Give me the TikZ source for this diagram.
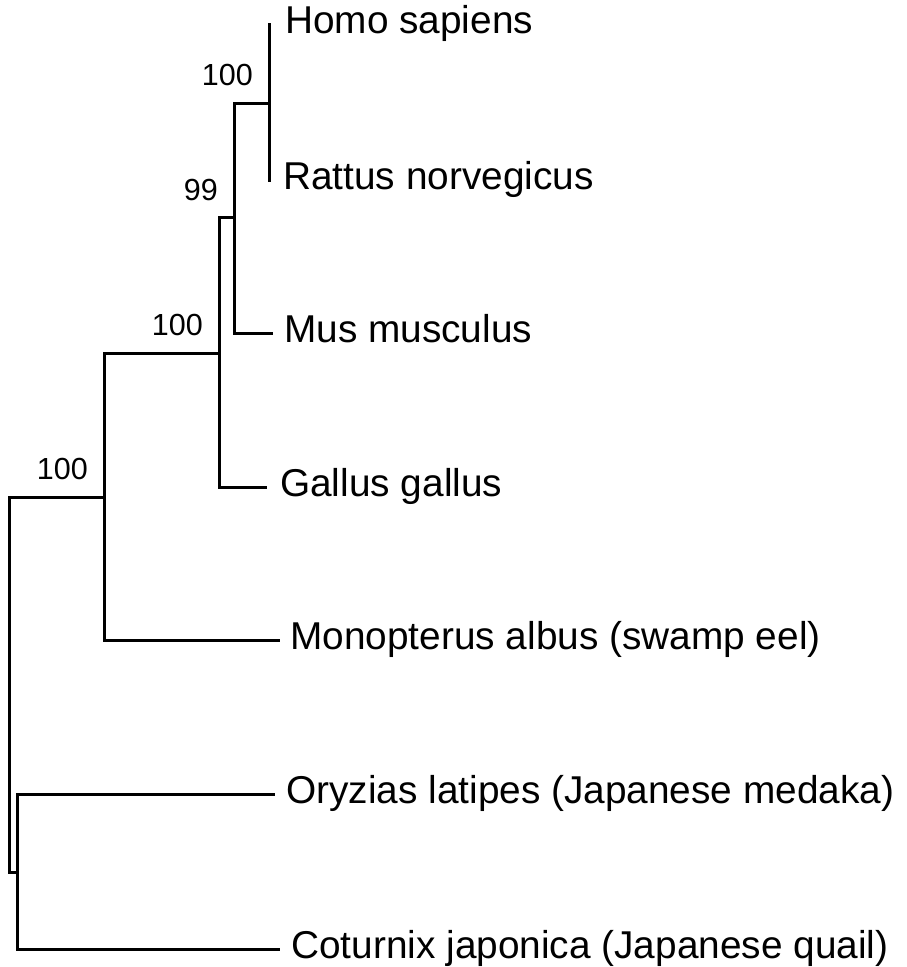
\documentclass[tikz,border=0pt]{standalone}
\usepackage{fontspec}
\setmainfont{Liberation Sans}
\usetikzlibrary{positioning}
\tikzset{
  branch/.style={draw=black,line width=3pt,line join=miter},
  taxon/.style={inner sep=0pt,font=\fontsize{38.8}{40}\selectfont,text height=29pt,text depth=9.5pt},
  boot/.style={inner sep=0pt,font=\fontsize{30.5}{32}\selectfont},
}

\begin{document}
\begin{tikzpicture}[x=1pt,y=-1pt]
  \useasboundingbox (0,0) rectangle (907,967);
  % internal nodes
  \coordinate (root) at (9,684);
  \coordinate (nA) at (104,497);
  \coordinate (nB) at (17,872);
  \coordinate (n3) at (219,353);
  \coordinate (n2) at (234,217);
  \coordinate (n1) at (269,103);
  % tips
  \coordinate (tHomo) at (271,24);
  \coordinate (tRattus) at (271,180);
  \coordinate (tMus) at (273,333);
  \coordinate (tGallus) at (267,487);
  \coordinate (tMono) at (280,640);
  \coordinate (tOryz) at (275,794);
  \coordinate (tCot) at (280,949);
  \foreach \p/\c in {root/nA,root/nB,nA/n3,nA/tMono,n3/n2,n3/tGallus,
                     n2/n1,n2/tMus,n1/tHomo,n1/tRattus,nB/tOryz,nB/tCot}
    \draw[branch] (\p) |- (\c);
  % taxa
  \node[taxon,right=14pt of tHomo] (homo) {Homo sapiens};
  \node[taxon,right=12pt of tRattus] (rattus) {Rattus norvegicus};
  \node[taxon,right=11pt of tMus] (mus) {Mus musculus};
  \node[taxon,right=13pt of tGallus] (gallus) {Gallus gallus};
  \node[taxon,right=10pt of tMono] (mono) {Monopterus albus (swamp eel)};
  \node[taxon,right=11pt of tOryz] (oryz) {Oryzias latipes (Japanese medaka)};
  \node[taxon,right=11pt of tCot] (cot) {Coturnix japonica (Japanese quail)};
  % bootstrap values
  \node[boot,above left=17pt and 16pt of n1] (b1) {100};
  \node[boot,above left=16pt and 16pt of n2] (b2) {99};
  \node[boot,above left=17pt and 16pt of n3] (b3) {100};
  \node[boot,above left=17pt and 16pt of nA] (bA) {100};
\end{tikzpicture}
\end{document}
